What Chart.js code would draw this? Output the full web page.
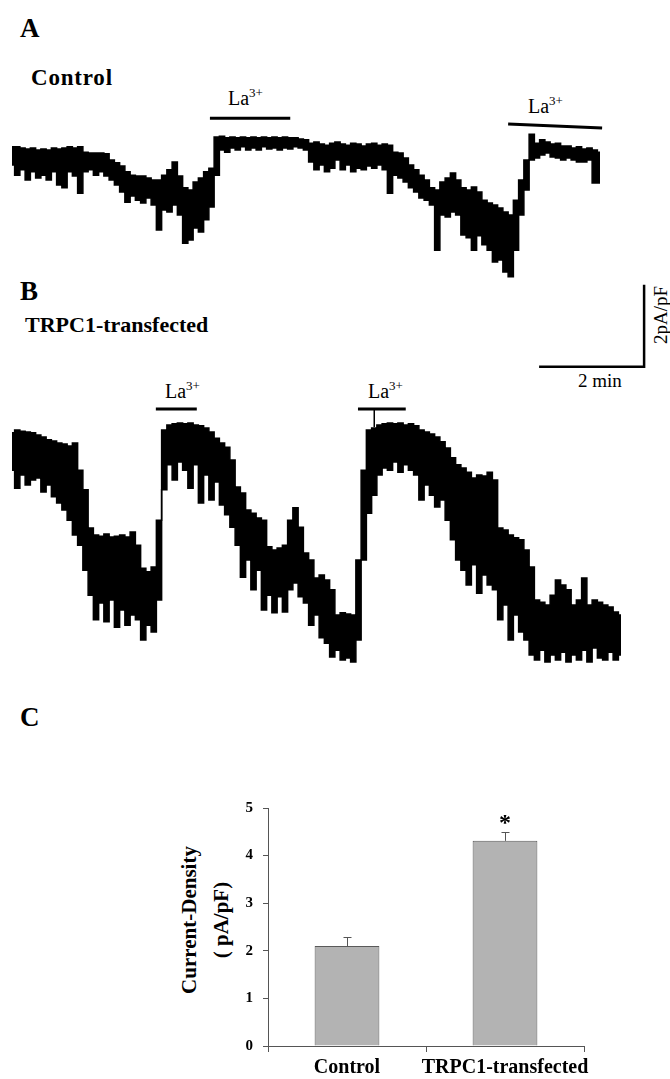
<!DOCTYPE html>
<html>
<head>
<meta charset="utf-8">
<script src="https://cdn.jsdelivr.net/npm/chart.js@4.4.0/dist/chart.umd.min.js"></script>
<style>
  body { margin: 0; width: 670px; height: 1079px; background: #fff; position: relative; overflow: hidden; font-family: "Liberation Serif", "Times New Roman", serif; color: #000; }
  canvas { position: absolute; left: 0; }
  .lbl { position: absolute; white-space: nowrap; line-height: 1; }
  .panel { font-weight: bold; font-size: 27px; }
  .name { font-weight: bold; font-size: 22px; }
  .la { font-size: 20px; }
  .la sup { font-size: 13px; vertical-align: 8px; line-height: 0; }
  .bar-text { font-size: 19px; }
  .ytitle { font-weight: bold; font-size: 21px; line-height: 32px; text-align: center; transform: translate(-50%, -50%) rotate(-90deg); }
</style>
</head>
<body>
<div class="lbl panel" style="left:20px; top:15px;">A</div>
<div class="lbl name" style="left:31px; top:66px; font-size:23px; letter-spacing:0.8px;">Control</div>
<div class="lbl la" style="left:228px; top:88px;">La<sup>3+</sup></div>
<div class="lbl la" style="left:528px; top:96px;">La<sup>3+</sup></div>

<div class="lbl panel" style="left:20px; top:278px;">B</div>
<div class="lbl name" style="left:25px; top:314px;">TRPC1-transfected</div>
<div class="lbl la" style="left:165px; top:381px;">La<sup>3+</sup></div>
<div class="lbl la" style="left:368px; top:381px;">La<sup>3+</sup></div>
<div class="lbl bar-text" style="left:578px; top:371px;">2 min</div>
<div class="lbl bar-text" style="left:660px; top:315px; transform: translate(-50%, -50%) rotate(-90deg);">2pA/pF</div>

<div class="lbl panel" style="left:20px; top:704px;">C</div>
<div class="lbl ytitle" style="left:205px; top:920px;">Current-Density<br>( pA/pF)</div>

<canvas id="traceA" width="670" height="290" style="top:0px"></canvas>
<canvas id="traceB" width="670" height="400" style="top:270px"></canvas>
<canvas id="barC" width="670" height="319" style="top:760px"></canvas>

<script>
// recordings sampled every 0.1 min, current in pA/pF (0 = level under La3+)
const DT = 0.1;

const controlTop = [
  -0.24, -0.24, -0.27, -0.29, -0.27, -0.32, -0.29, -0.32, -0.27, -0.29,
  -0.27, -0.24, -0.27, -0.24, -0.37, -0.39, -0.39, -0.39, -0.41, -0.56,
  -0.63, -0.71, -0.85, -0.93, -0.95, -0.95, -1.00, -1.05, -1.05, -0.93,
  -0.80, -0.61, -0.95, -1.24, -1.29, -1.10, -1.00, -0.85, -0.76, 0.00,
  0.02, -0.02, 0.00, -0.02, 0.00, -0.02, 0.00, -0.02, 0.00, -0.02,
  0.00, -0.02, 0.00, -0.02, -0.02, -0.05, -0.07, -0.15, -0.12, -0.17,
  -0.20, -0.15, -0.12, -0.17, -0.20, -0.15, -0.17, -0.22, -0.17, -0.15,
  -0.20, -0.17, -0.20, -0.37, -0.39, -0.51, -0.68, -0.80, -0.93, -1.05,
  -1.24, -1.29, -1.10, -1.00, -0.88, -1.05, -1.24, -1.29, -1.22, -1.34,
  -1.54, -1.61, -1.66, -1.73, -1.83, -1.90, -1.54, -1.05, -0.56, 0.07,
  -0.15, -0.07, -0.12, -0.17, -0.15, -0.22, -0.22, -0.27, -0.24, -0.29,
  -0.27, -0.32, -0.37
];
const controlBottom = [
  -0.68, -0.93, -0.80, -1.05, -0.85, -1.00, -0.93, -1.05, -0.85, -1.17,
  -1.24, -0.85, -0.95, -1.37, -0.85, -0.80, -0.93, -0.85, -0.95, -1.05,
  -1.17, -1.34, -1.59, -1.44, -1.54, -1.61, -1.49, -1.66, -2.27, -1.78,
  -1.83, -1.66, -1.90, -2.59, -2.51, -2.22, -2.32, -2.02, -1.71, -0.93,
  -0.32, -0.37, -0.27, -0.32, -0.24, -0.32, -0.27, -0.32, -0.24, -0.29,
  -0.27, -0.32, -0.27, -0.29, -0.24, -0.27, -0.32, -0.61, -0.80, -0.68,
  -0.85, -0.76, -0.56, -0.80, -0.68, -0.85, -0.76, -0.80, -0.71, -0.76,
  -0.68, -0.80, -1.37, -0.93, -1.00, -1.10, -1.24, -1.34, -1.49, -1.54,
  -1.66, -2.76, -1.90, -1.95, -1.83, -1.90, -2.39, -2.46, -2.76, -2.41,
  -2.63, -2.76, -3.05, -3.00, -3.29, -3.41, -2.76, -1.90, -1.29, -0.56,
  -0.51, -0.44, -0.39, -0.49, -0.51, -0.56, -0.51, -0.56, -0.61, -0.61,
  -0.56, -1.12, -1.12
];

const trpcTop = [
  -0.24, -0.17, -0.20, -0.22, -0.24, -0.29, -0.34, -0.41, -0.44, -0.49,
  -0.51, -0.56, -0.49, -1.15, -1.63, -2.56, -2.73, -2.76, -2.71, -2.78,
  -2.76, -2.73, -2.78, -2.66, -2.98, -3.54, -3.63, -3.51, -2.37, -0.17,
  -0.05, -0.02, 0.00, -0.02, 0.00, -0.05, -0.07, -0.12, -0.22, -0.37,
  -0.49, -0.59, -0.90, -1.56, -1.71, -2.12, -2.20, -2.32, -2.37, -3.02,
  -3.10, -3.05, -2.98, -2.37, -2.07, -2.54, -3.17, -3.34, -3.78, -3.71,
  -3.83, -4.07, -4.68, -4.63, -4.66, -4.68, -3.34, -1.15, -0.17, -0.12,
  -0.05, -0.02, 0.00, -0.02, 0.00, -0.05, -0.02, -0.07, -0.17, -0.22,
  -0.27, -0.34, -0.46, -0.61, -0.85, -1.02, -1.10, -1.20, -1.34, -1.27,
  -1.29, -1.20, -1.39, -2.56, -2.61, -2.73, -2.80, -2.85, -3.10, -3.51,
  -4.32, -4.37, -4.44, -4.20, -3.83, -3.95, -4.07, -4.44, -4.32, -3.78,
  -4.44, -4.32, -4.37, -4.44, -4.49, -4.61, -4.68
];
const trpcBottom = [
  -1.15, -1.59, -1.27, -1.51, -1.39, -1.34, -1.68, -1.51, -1.80, -1.95,
  -2.12, -2.37, -2.73, -2.98, -3.59, -4.20, -4.80, -4.39, -4.85, -4.32,
  -4.98, -4.56, -4.93, -4.68, -4.80, -5.29, -4.93, -5.10, -4.32, -1.63,
  -1.02, -1.39, -0.95, -1.15, -1.59, -1.02, -1.95, -1.27, -1.88, -1.44,
  -2.00, -2.24, -2.54, -2.98, -3.76, -3.34, -4.07, -3.59, -4.56, -4.20,
  -4.63, -4.24, -4.61, -4.07, -3.90, -4.24, -4.39, -4.93, -4.68, -5.24,
  -5.37, -5.71, -5.54, -5.78, -5.73, -5.83, -5.29, -3.34, -2.20, -1.76,
  -1.27, -1.10, -1.15, -0.95, -1.20, -1.02, -1.15, -1.27, -1.88, -1.51,
  -1.76, -2.05, -1.88, -2.37, -2.85, -3.34, -3.59, -3.95, -3.46, -4.15,
  -3.71, -3.95, -4.07, -4.80, -4.44, -5.29, -4.68, -5.10, -5.29, -5.66,
  -5.78, -5.54, -5.83, -5.66, -5.78, -5.59, -5.83, -5.66, -5.78, -5.54,
  -5.83, -5.49, -5.73, -5.78, -5.59, -5.78, -5.66
];

// La3+ application: [start min, end min, bar level start, bar level end]
const laA = [[3.77, 5.30, 0.46, 0.46], [9.45, 11.24, 0.32, 0.22]];
const laB = [[2.74, 3.52, 0.34, 0.34], [6.59, 7.50, 0.34, 0.34]];
const laMarkB = [6.90, 0.34, -0.10];

// calibration bar
const scaleMin = 2;
const scalePA = 2;
const scaleCorner = [12.04, 1.37];

// panel C
const groups = ['Control', 'TRPC1-transfected'];
const density = [2.1, 4.31];
const densityErr = [0.19, 0.18];
const yTicks = [0, 1, 2, 3, 4, 5];

const PX_PER_MIN = 52.5;
const PX_PER_PA = 41;
const X_MIN = -12 / PX_PER_MIN;
const X_MAX = X_MIN + 670 / PX_PER_MIN;

const toPoints = arr => arr.map((v, i) => ({ x: +(i * DT).toFixed(2), y: v }));

function segment(pts, width) {
  return {
    data: pts.map(([x, y]) => ({ x, y })),
    borderColor: '#000', borderWidth: width, pointRadius: 0, fill: false, tension: 0,
    borderCapStyle: 'butt'
  };
}

function traceChart(id, top, bottom, zeroPx, heightPx, extras) {
  const yMax = zeroPx / PX_PER_PA;
  const yMin = yMax - heightPx / PX_PER_PA;
  const trace = { pointRadius: 0, stepped: 'middle', borderColor: '#000', borderWidth: 1.5 };
  return new Chart(document.getElementById(id), {
    type: 'line',
    data: {
      datasets: [
        { ...trace, data: toPoints(top), fill: '+1', backgroundColor: '#000' },
        { ...trace, data: toPoints(bottom), fill: false },
        ...extras
      ]
    },
    options: {
      responsive: false,
      animation: false,
      layout: { padding: 0, autoPadding: false },
      plugins: { legend: { display: false }, tooltip: { enabled: false } },
      scales: {
        x: { type: 'linear', display: false, min: X_MIN, max: X_MAX },
        y: { display: false, min: yMin, max: yMax }
      }
    }
  });
}

traceChart('traceA', controlTop, controlBottom, 137, 290,
  laA.map(([a, b, l1, l2]) => segment([[a, l1], [b, l2]], 3)));

const [cx, cy] = scaleCorner;
traceChart('traceB', trpcTop, trpcBottom, 153, 400, [
  ...laB.map(([a, b, l1, l2]) => segment([[a, l1], [b, l2]], 3)),
  segment([[laMarkB[0], laMarkB[1]], [laMarkB[0], laMarkB[2]]], 1.5),
  segment([[cx - scaleMin, cy], [cx, cy], [cx, cy + scalePA]], 2.5)
]);

const errorBars = {
  id: 'errorBars',
  afterDatasetsDraw(chart) {
    const ctx = chart.ctx;
    const y = chart.scales.y;
    const meta = chart.getDatasetMeta(0);
    ctx.save();
    ctx.strokeStyle = '#555';
    ctx.lineWidth = 1;
    meta.data.forEach((bar, i) => {
      const top = Math.round(y.getPixelForValue(density[i] + densityErr[i])) + 0.5;
      const x = Math.round(bar.x) + 0.5;
      ctx.beginPath();
      ctx.moveTo(x, bar.y);
      ctx.lineTo(x, top);
      ctx.moveTo(x - 4, top);
      ctx.lineTo(x + 4, top);
      ctx.stroke();
    });
    // significance mark over the transfected group
    const b = meta.data[1];
    ctx.fillStyle = '#000';
    ctx.font = 'bold 24px "Liberation Serif"';
    ctx.textAlign = 'center';
    ctx.textBaseline = 'alphabetic';
    ctx.fillText('*', b.x, y.getPixelForValue(density[1] + densityErr[1]) - 2);
    ctx.restore();
  }
};

const tickFont = { family: 'Liberation Serif', weight: 'bold' };

new Chart(document.getElementById('barC'), {
  type: 'bar',
  data: {
    labels: groups,
    datasets: [{
      data: density,
      backgroundColor: '#b3b3b3',
      borderColor: '#5a5a5a',
      borderWidth: 1,
      barPercentage: 0.41,
      categoryPercentage: 1
    }]
  },
  options: {
    responsive: false,
    animation: false,
    layout: { padding: { top: 48, right: 86, left: 0, bottom: 0 }, autoPadding: false },
    plugins: { legend: { display: false }, tooltip: { enabled: false } },
    scales: {
      x: {
        grid: { offset: true, drawOnChartArea: false, tickLength: 6, color: '#555' },
        border: { color: '#555', width: 1 },
        ticks: { color: '#000', font: { ...tickFont, size: 20 }, padding: 4, maxRotation: 0, autoSkip: false },
        afterFit: s => { s.height = 33; }
      },
      y: {
        min: 0, max: 5,
        afterBuildTicks: s => { s.ticks = yTicks.map(v => ({ value: v })); },
        grid: { drawOnChartArea: false, tickLength: 5, color: '#555' },
        border: { color: '#555', width: 1 },
        ticks: { color: '#000', font: { ...tickFont, size: 15 }, padding: 10 },
        afterFit: s => { s.width = 268; }
      }
    }
  },
  plugins: [errorBars]
});
</script>
</body>
</html>
